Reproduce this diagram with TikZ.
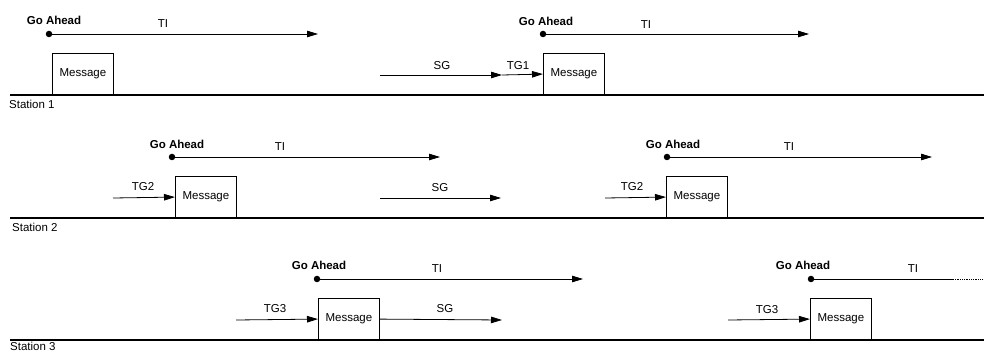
\documentclass[tikz,border=0pt]{standalone}
\usepackage{fontspec}
\setmainfont{Liberation Sans}
\usetikzlibrary{arrows.meta,positioning}

\tikzset{
  base/.style={line width=1.5pt},
  arr/.style={line width=0.8pt, -{Triangle[length=11pt,width=6.5pt]}},
  msg/.style={draw, line width=0.8pt, anchor=south west, minimum width=61pt, minimum height=41pt, inner sep=0pt, font=\fontsize{11.5}{13}\selectfont},
  gdot/.style={circle, fill, inner sep=0pt, minimum size=6.5pt},
  lbl/.style={inner sep=0pt, font=\fontsize{11.5}{13}\selectfont},
  glbl/.style={inner sep=0pt, font=\fontsize{11.5}{13}\selectfont\bfseries},
  stn/.style={inner sep=0pt, anchor=west, font=\fontsize{11.5}{13}\selectfont}
}

\begin{document}
\begin{tikzpicture}[x=1pt, y=-1pt]
	\useasboundingbox (0,0) rectangle (984,352);
	%Station 1
	\draw [base] (10,95) -- (984,95);
	\node [stn] (st1) at (9,104) {Station 1};
	\node [msg] (m1a) at (52,95) {Message};
	\node [gdot] (g1a) at (49,34) {};
	\coordinate (t1a) at (318,34);
	\draw [arr] (g1a) -- (t1a);
	\node [glbl] at (54,20) {Go Ahead};
	\node [lbl] at (163,24) {TI};
	\coordinate (s1) at (380,75);
	\coordinate (j1) at (502,75);
	\node [msg] (m1b) at (543,95) {Message};
	\draw [arr] (s1) -- (j1);
	\draw [arr] (j1) -- (m1b.west);
	\node [lbl] at (442,66) {SG};
	\node [lbl] at (518,66) {TG1};
	\node [gdot] (g1b) at (543,34) {};
	\coordinate (t1b) at (809,34);
	\draw [arr] (g1b) -- (t1b);
	\node [glbl] at (546,21) {Go Ahead};
	\node [lbl] at (646,25) {TI};
	%Station 2
	\draw [base] (10,218) -- (984,218);
	\node [stn] (st2) at (12,227) {Station 2};
	\node [msg] (m2a) at (175,218) {Message};
	\coordinate (tg2a) at (113,198);
	\draw [arr] (tg2a) -- (m2a.west);
	\node [lbl] at (143,187) {TG2};
	\node [gdot] (g2a) at (172,157) {};
	\coordinate (t2a) at (440,157);
	\draw [arr] (g2a) -- (t2a);
	\node [glbl] at (177,144) {Go Ahead};
	\node [lbl] at (280,147) {TI};
	\coordinate (s2) at (380,198);
	\coordinate (e2) at (501,198);
	\draw [arr] (s2) -- (e2);
	\node [lbl] at (440,188) {SG};
	\node [msg] (m2b) at (666,218) {Message};
	\coordinate (tg2b) at (605,198);
	\draw [arr] (tg2b) -- (m2b.west);
	\node [lbl] at (632,187) {TG2};
	\node [gdot] (g2b) at (667,157) {};
	\coordinate (t2b) at (932,157);
	\draw [arr] (g2b) -- (t2b);
	\node [glbl] at (673,144) {Go Ahead};
	\node [lbl] at (789,147) {TI};
	%Station 3
	\draw [base] (10,340) -- (984,340);
	\node [stn] (st3) at (10,346) {Station 3};
	\node [msg] (m3a) at (318,340) {Message};
	\coordinate (tg3a) at (236,320);
	\draw [arr] (tg3a) -- (m3a.west);
	\node [lbl] at (275,309) {TG3};
	\coordinate (e3) at (502,320);
	\draw [arr] (m3a.east) -- (e3);
	\node [lbl] at (445,309) {SG};
	\node [gdot] (g3a) at (317,279) {};
	\coordinate (t3a) at (583,279);
	\draw [arr] (g3a) -- (t3a);
	\node [glbl] at (319,265) {Go Ahead};
	\node [lbl] at (437,269) {TI};
	\node [msg] (m3b) at (810,340) {Message};
	\coordinate (tg3b) at (728,320);
	\draw [arr] (tg3b) -- (m3b.west);
	\node [lbl] at (767,310) {TG3};
	\node [gdot] (g3b) at (811,279) {};
	\coordinate (t3b) at (953,279);
	\coordinate (t3c) at (984,279);
	\draw [line width=0.8pt] (g3b) -- (t3b);
	\draw [line width=0.8pt, densely dotted] (t3b) -- (t3c);
	\node [glbl] at (803,265) {Go Ahead};
	\node [lbl] at (913,269) {TI};
\end{tikzpicture}
\end{document}
